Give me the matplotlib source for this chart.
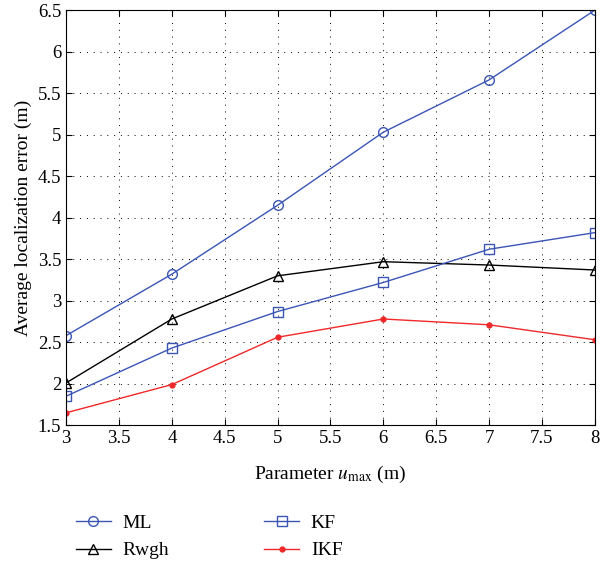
import matplotlib.pyplot as plt
import matplotlib.ticker as ticker

plt.rcParams['font.family'] = ['Liberation Serif', 'DejaVu Serif']
plt.rcParams['mathtext.fontset'] = 'stix'

u_max = [3, 4, 5, 6, 7, 8]
ml = [2.58, 3.32, 4.15, 5.03, 5.66, 6.5]
rwgh = [2.01, 2.78, 3.30, 3.47, 3.43, 3.37]
kf = [1.85, 2.43, 2.87, 3.22, 3.62, 3.82]
ikf = [1.65, 1.99, 2.56, 2.78, 2.71, 2.53]

blue = '#3b55b5'
red = '#f0282a'

fig = plt.figure(figsize=(6.12, 5.64), dpi=100)
ax = fig.add_axes([0.108, 0.246, 0.864, 0.736])

ax.plot(u_max, ml, color=blue, lw=1, marker='o', ms=7, mfc='none', label='ML')
ax.plot(u_max, rwgh, color='k', lw=1, marker='^', ms=7, mfc='none', label='Rwgh')
ax.plot(u_max, kf, color=blue, lw=1, marker='s', ms=7, mfc='none', label='KF')
ax.plot(u_max, ikf, color=red, lw=1, marker='o', ms=3.5, label='IKF')

ax.set_xlim(3, 8)
ax.set_ylim(1.5, 6.5)
ax.xaxis.set_major_locator(ticker.MultipleLocator(0.5))
ax.yaxis.set_major_locator(ticker.MultipleLocator(0.5))
ax.xaxis.set_major_formatter(ticker.FormatStrFormatter('%g'))
ax.yaxis.set_major_formatter(ticker.FormatStrFormatter('%g'))
ax.tick_params(direction='in', labelsize=13.5, length=4, top=True, right=True)
ax.grid(which='major', linewidth=0.7, linestyle=(0, (1, 6)), color='k')
for s in ax.spines.values():
    s.set_linewidth(0.8)

ax.set_xlabel('Parameter $\\mathit{u}_{\\mathrm{max}}$ (m)', fontsize=14, labelpad=12)
ax.set_ylabel('Average localization error (m)', fontsize=14)

handles, labels = ax.get_legend_handles_labels()
fig.legend(handles, labels,
           loc='upper left', bbox_to_anchor=(0.095, 0.119), ncol=2,
           frameon=False, fontsize=14, columnspacing=4.9,
           handlelength=1.8, labelspacing=0.5, handletextpad=0.6)

plt.savefig('out.png', dpi=100)
